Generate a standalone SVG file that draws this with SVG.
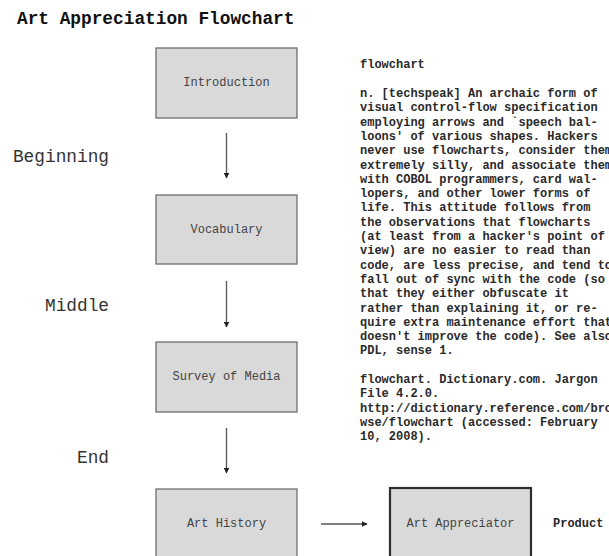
<svg xmlns="http://www.w3.org/2000/svg" width="609" height="556" viewBox="0 0 609 556">
<defs>
<style>
text{font-family:"Liberation Mono","Courier New",monospace;}
.title{font-size:17.8px;font-weight:bold;fill:#111;}
.side{font-size:17.8px;fill:#333;text-anchor:end;}
.box rect{fill:#d9d9d9;stroke:#6e6e6e;stroke-width:1.3;}
.box text{font-size:12px;fill:#444;text-anchor:middle;}
.prod rect{fill:#d9d9d9;stroke:#2e2e2e;stroke-width:2.2;}
.body{font-size:12px;font-weight:bold;fill:#2a2a2a;}
.conn line{stroke:#555;stroke-width:1.3;}
</style>
<marker id="ah" viewBox="0 0 10 10" refX="9" refY="5" markerWidth="6" markerHeight="6" markerUnits="userSpaceOnUse" orient="auto">
<path d="M0,0 L10,5 L0,10 z" fill="#222"/>
</marker>
</defs>
<rect width="609" height="556" fill="#ffffff"/>
<text class="title" x="17" y="24">Art Appreciation Flowchart</text>
<text class="side" x="109" y="162">Beginning</text>
<text class="side" x="109" y="311">Middle</text>
<text class="side" x="109" y="463">End</text>
<g id="introduction" class="box"><rect x="156" y="48" width="141" height="70"/><text x="226.5" y="86">Introduction</text></g>
<g id="vocabulary" class="box"><rect x="156" y="195" width="141" height="69"/><text x="226.5" y="233">Vocabulary</text></g>
<g id="survey" class="box"><rect x="156" y="342" width="141" height="70"/><text x="226.5" y="380">Survey of Media</text></g>
<g id="arthistory" class="box"><rect x="156" y="489" width="141" height="72"/><text x="226.5" y="527">Art History</text></g>
<g id="artappreciator" class="box prod"><rect x="390" y="488" width="141" height="72"/><text x="460.5" y="527">Art Appreciator</text></g>
<g id="connectors" class="conn">
<line x1="226.5" y1="133" x2="226.5" y2="178" marker-end="url(#ah)"/>
<line x1="226.5" y1="281" x2="226.5" y2="327" marker-end="url(#ah)"/>
<line x1="226.5" y1="428" x2="226.5" y2="473" marker-end="url(#ah)"/>
<line x1="321" y1="524" x2="367" y2="524" marker-end="url(#ah)"/>
</g>
<text class="body" x="553" y="527">Product</text>
<g id="definition" class="body">
<text x="360" y="68">flowchart</text>
<text x="360" y="97">n. [techspeak] An archaic form of</text>
<text x="360" y="111.3">visual control-flow specification</text>
<text x="360" y="125.6">employing arrows and `speech bal-</text>
<text x="360" y="139.9">loons' of various shapes. Hackers</text>
<text x="360" y="154.2">never use flowcharts, consider them</text>
<text x="360" y="168.5">extremely silly, and associate them</text>
<text x="360" y="182.8">with COBOL programmers, card wal-</text>
<text x="360" y="197.1">lopers, and other lower forms of</text>
<text x="360" y="211.4">life. This attitude follows from</text>
<text x="360" y="225.7">the observations that flowcharts</text>
<text x="360" y="240">(at least from a hacker's point of</text>
<text x="360" y="254.3">view) are no easier to read than</text>
<text x="360" y="268.6">code, are less precise, and tend to</text>
<text x="360" y="282.9">fall out of sync with the code (so</text>
<text x="360" y="297.2">that they either obfuscate it</text>
<text x="360" y="311.5">rather than explaining it, or re-</text>
<text x="360" y="325.8">quire extra maintenance effort that</text>
<text x="360" y="340.1">doesn't improve the code). See also</text>
<text x="360" y="354.4">PDL, sense 1.</text>
<text x="360" y="383">flowchart. Dictionary.com. Jargon</text>
<text x="360" y="397.3">File 4.2.0.</text>
<text x="360" y="411.6">http://dictionary.reference.com/bro</text>
<text x="360" y="425.9">wse/flowchart (accessed: February</text>
<text x="360" y="440.2">10, 2008).</text>
</g>
</svg>
